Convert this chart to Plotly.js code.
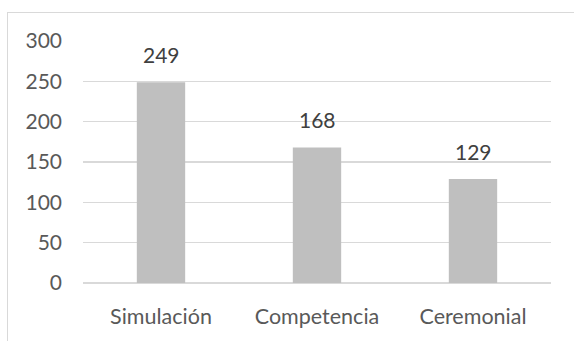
<!DOCTYPE html>
<html>
<head>
<meta charset="utf-8">
<script src="https://cdn.plot.ly/plotly-3.0.1.min.js"></script>
<style>
  html, body { margin: 0; padding: 0; background: #ffffff; overflow: hidden; }
  #wrap { position: relative; width: 574px; height: 341px; }
  #chart { position: absolute; left: 0; top: 0; width: 574px; height: 341px; }
  #frame {
    position: absolute; left: 7px; top: 12px; width: 620px; height: 400px;
    border: 1.5px solid #d9d9d9; box-sizing: border-box; pointer-events: none;
  }
</style>
</head>
<body>
<div id="wrap">
  <div id="chart"></div>
  <div id="frame"></div>
</div>
<script>
// Categories and counts
const categories = ["Simulación", "Competencia", "Ceremonial"];
const counts = [249, 168, 129];
const yTicks = [0, 50, 100, 150, 200, 250, 300];

const FONT = "Lato, 'Open Sans', sans-serif";

const trace = {
  type: "bar",
  x: categories,
  y: counts,
  marker: { color: "#bfbfbf", line: { width: 0 } },
  hoverinfo: "skip"
};

// Value labels above each bar
const labels = categories.map((c, i) => ({
  x: c,
  y: counts[i],
  xref: "x",
  yref: "y",
  text: String(counts[i]),
  showarrow: false,
  yanchor: "bottom",
  yshift: 13,
  font: { family: FONT, size: 21, color: "#404040" }
}));

const layout = {
  width: 574,
  height: 341,
  margin: { l: 83, r: 23, t: 41, b: 58 },
  paper_bgcolor: "rgba(0,0,0,0)",
  plot_bgcolor: "rgba(0,0,0,0)",
  bargap: 0.69,
  showlegend: false,
  xaxis: {
    type: "category",
    showgrid: false,
    zeroline: false,
    showline: false,
    ticks: "",
    ticklabelstandoff: 18,
    tickfont: { family: FONT, size: 21.5, color: "#595959" }
  },
  yaxis: {
    range: [0, 300],
    tickvals: yTicks,
    ticktext: yTicks.map(String),
    showgrid: true,
    gridcolor: "#d9d9d9",
    gridwidth: 1.5,
    zeroline: true,
    zerolinecolor: "#d9d9d9",
    zerolinewidth: 1.5,
    showline: false,
    ticks: "",
    ticklabelstandoff: 20,
    tickfont: { family: FONT, size: 21, color: "#595959" }
  },
  annotations: labels
};

Plotly.newPlot("chart", [trace], layout, { staticPlot: true, displayModeBar: false });
</script>
</body>
</html>
